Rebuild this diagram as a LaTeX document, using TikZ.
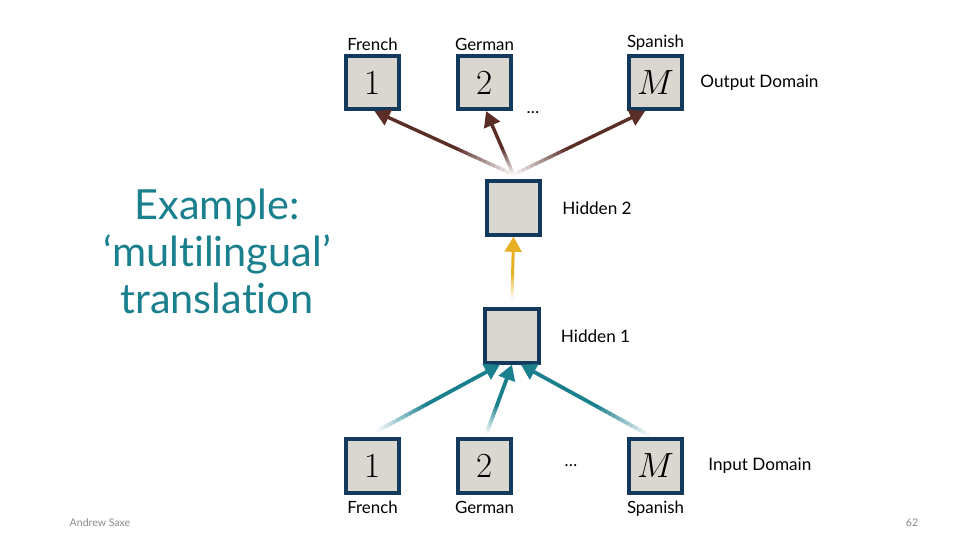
\documentclass[tikz,border=0pt]{standalone}
\usepackage{fontspec}
\setmainfont{Lato}[Ligatures=NoCommon]
\newfontfamily\digitfont{Latin Modern Roman}
\usepackage{tikz}
\usetikzlibrary{arrows.meta, positioning, calc}

\definecolor{boxline}{HTML}{133A5C}
\definecolor{boxfill}{HTML}{DAD7D0}
\definecolor{tealc}{HTML}{1A808E}
\definecolor{brownc}{HTML}{5A2E27}
\definecolor{goldc}{HTML}{E6B022}
\definecolor{footc}{HTML}{8A8A8A}

% arrow whose tail fades into the background
\newcommand{\fadedarrow}[4]{% colour, width, from, to
  \foreach \k in {0,...,11} {
    \pgfmathtruncatemacro\pc{5+\k*8}
    \draw[line width=#2, draw=#1!\pc!white]
      ($(#3)!\k/30!(#4)$) -- ($(#3)!\k/30+1/30+0.004!(#4)$);
  }
  \draw[arr, line width=#2, draw=#1, fill=#1] ($(#3)!0.4!(#4)$) -- (#4);
}

\begin{document}
\begin{tikzpicture}[
    x=0.025cm, y=-0.025cm,
    unit/.style  = {draw=boxline, fill=boxfill, line width=0.1cm,
                    minimum size=1.33cm, inner sep=0pt,
                    font=\fontsize{25}{25}\selectfont\digitfont},
    lang/.style  = {font=\fontsize{12}{12}\selectfont, inner sep=1pt},
    side/.style  = {font=\fontsize{12.2}{12}\selectfont, inner sep=0pt, anchor=west},
    arr/.style   = {-{Triangle[length=0.38cm, width=0.42cm]}},
    title/.style = {text=tealc, align=center,
                    font=\fontsize{29.5}{33.5}\selectfont},
    foot/.style  = {text=footc, font=\fontsize{7.5}{8}\selectfont}
  ]
    \useasboundingbox[fill=white] (0,0) rectangle (976,549);

    % output layer
    \node[unit] (out1) at (372.5, 82.5) {1};
    \node[unit] (out2) at (484.5, 82.5) {2};
    \node[unit] (outM) at (655.5, 82.5) {$M$};
    \node[lang, above=1pt of out1] (outfr) {French};
    \node[lang, above=1pt of out2] (outde) {German};
    \node[lang, above=1pt of outM] (outes) {Spanish};
    \node[side, right=0.4cm of outM] (outdom) {Output Domain};
    \node[lang] (outdots) at (533, 113) {\dots};

    % hidden layers
    \node[unit] (hid2) at (513.5, 208) {};
    \node[unit] (hid1) at (512, 336) {};
    \node[side, right=0.5cm of hid2] (hid2lab) {Hidden 2};
    \node[side, right=0.5cm of hid1] (hid1lab) {Hidden 1};

    % input layer
    \node[unit] (in1) at (372.5, 466) {1};
    \node[unit] (in2) at (484.5, 466) {2};
    \node[unit] (inM) at (655.5, 466) {$M$};
    \node[lang, below=3.5pt of in1] (infr) {French};
    \node[lang, below=3.5pt of in2] (inde) {German};
    \node[lang, below=3.5pt of inM] (ines) {Spanish};
    \node[side, right=0.6cm of inM] (indom) {Input Domain};
    \node[lang] (indots) at (571, 466) {\dots};

    % connectors
    \coordinate (h2top) at ([yshift=0.12cm]hid2.north);
    \coordinate (h1top) at ([yshift=0.2cm]hid1.north);
    \fadedarrow{brownc}{0.085cm}{h2top}{[xshift=0.05cm]out1.south}
    \fadedarrow{brownc}{0.085cm}{h2top}{[xshift=0.04cm]out2.south}
    \fadedarrow{brownc}{0.085cm}{h2top}{[xshift=-0.26cm]outM.south}
    \fadedarrow{goldc}{0.075cm}{h1top}{hid2.south}
    \fadedarrow{tealc}{0.095cm}{[xshift=0.1cm, yshift=0.15cm]in1.north}{[xshift=-0.3cm]hid1.south}
    \fadedarrow{tealc}{0.095cm}{[xshift=0.05cm, yshift=0.1cm]in2.north}{hid1.south}
    \fadedarrow{tealc}{0.095cm}{[xshift=-0.15cm, yshift=0.05cm]inM.north}{[xshift=0.22cm]hid1.south}

    % title and footer
    \node[title] (heading) at (217, 251) {Example:\\‘multilingual’\\translation};
    \node[foot] (author) at (100, 523) {Andrew Saxe};
    \node[foot] (pagenum) at (912, 523) {62};
\end{tikzpicture}
\end{document}
